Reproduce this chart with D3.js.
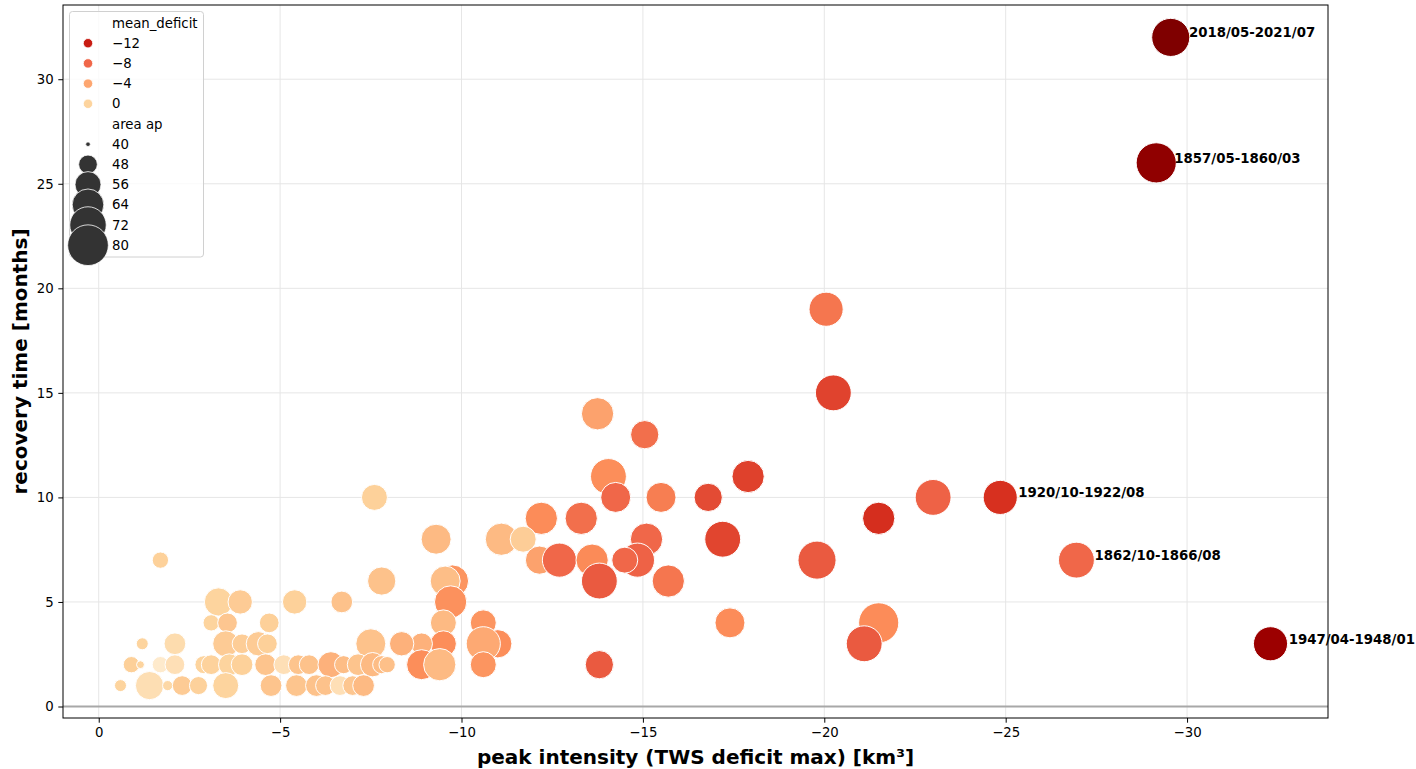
<!DOCTYPE html>
<html>
<head>
<meta charset="utf-8">
<script src="https://cdn.jsdelivr.net/npm/d3@7"></script>
<style>
  body { margin: 0; background: #fff; }
  svg { font-family: "DejaVu Sans", sans-serif; }
</style>
</head>
<body>
<svg id="chart" width="1416" height="769"></svg>
<script>
// drought events: peak deficit, recovery time, mean deficit (hue), area (size)
const peak = [-29.55, -29.15, -24.85, -26.95, -32.3,
  -20.05, -20.25, -13.75, -15.05, -14.05, -14.25, -15.5, -16.8, -17.9, -13.3,
  -15.1, -17.2, -21.5, -23.0, -19.8, -7.6, -12.2, -9.3, -11.1, -11.7,
  -12.15, -12.7, -13.6, -14.85, -14.5, -13.8, -15.7, -7.8, -9.75, -9.55,
  -9.7, -9.5, -9.5, -8.9, -8.35, -8.9, -9.4, -10.6, -11.0, -10.6,
  -10.6, -13.8, -17.4, -21.5, -21.1,
  -3.3, -3.9, -3.1, -3.55, -4.7, -1.2, -2.1, -3.5, -3.95, -4.4,
  -4.65, -0.9, -1.15, -1.7, -2.1, -2.9, -3.1, -3.6, -3.95, -4.6,
  -0.6, -1.4, -1.9, -2.3, -2.75, -3.5, -4.75, -5.4, -6.7, -7.5,
  -5.1, -5.5, -5.8, -6.4, -6.75, -7.15, -7.55, -7.8, -7.95, -5.45,
  -6.0, -6.25, -6.65, -7.0, -7.3, -1.7];
const recovery = [32, 26, 10, 7, 3,
  19, 15, 14, 13, 11, 10, 10, 10, 11, 9,
  8, 8, 9, 10, 7, 10, 9, 8, 8, 8,
  7, 7, 7, 7, 7, 6, 6, 6, 6, 6,
  5, 4, 3, 3, 3, 2, 2, 4, 3, 3,
  2, 2, 4, 4, 3,
  5, 5, 4, 4, 4, 3, 3, 3, 3, 3,
  3, 2, 2, 2, 2, 2, 2, 2, 2, 2,
  1, 1, 1, 1, 1, 1, 1, 5, 5, 3,
  2, 2, 2, 2, 2, 2, 2, 2, 2, 1,
  1, 1, 1, 1, 1, 7];
const meanDeficit = [-16.3, -15.4, -10.9, -8.0, -14.8,
  -7.0, -9.9, -4.2, -7.5, -5.4, -8.0, -6.5, -9.5, -10.0, -7.5,
  -8.0, -9.8, -11.0, -8.3, -8.7, -0.4, -5.5, -2.8, -2.8, -0.8,
  -4.2, -8.0, -5.6, -8.3, -8.0, -8.7, -7.0, -2.0, -5.0, -2.4,
  -5.2, -2.8, -5.4, -3.3, -3.3, -5.4, -2.8, -5.0, -5.4, -3.8,
  -5.0, -8.7, -5.5, -5.5, -8.7,
  0.0, -1.0, 0.0, -1.5, -0.5, 0.0, 1.0, -1.0, -0.8, -1.0,
  -0.5, -0.5, 0.0, 3.0, 1.5, 0.0, -0.2, 0.0, -0.4, -1.8,
  0.0, 1.3, 0.5, -1.0, -0.3, 0.0, -1.8, -0.4, -2.0, -2.0,
  1.5, -1.8, -2.0, -3.3, -2.5, -1.8, -2.8, -2.5, -2.2, -1.7,
  -2.0, -2.0, 1.5, -1.5, -2.8, -0.4];
const areaAp = [75, 79, 68, 71, 68,
  68, 71, 65, 59, 71, 61.5, 61.5, 59, 65, 65,
  65, 71, 65, 71, 75, 56, 65, 61.5, 65, 56,
  59, 68, 65, 68, 56, 71, 65, 59, 65, 61.5,
  65, 56, 56, 51, 54, 61.5, 65, 56, 59, 68,
  56, 59, 61.5, 79, 71,
  59, 54, 46, 49, 49, 43, 51, 56, 49, 54,
  49, 46, 41, 46, 49, 47.5, 49, 51, 51, 51,
  43, 59, 42, 49, 47.5, 56, 51, 54, 51, 61.5,
  49, 49, 49, 56, 47.5, 51, 54, 47.5, 46, 51,
  51, 49, 49, 49, 51, 46];
// annotated events (index into the arrays above)
const labelIdx = [0, 1, 2, 3, 4];
const labelNames = ["2018/05-2021/07", "1857/05-1860/03", "1920/10-1922/08", "1862/10-1866/08", "1947/04-1948/01"];

const xTicks = [0, -5, -10, -15, -20, -25, -30];
const yTicks = [0, 5, 10, 15, 20, 25, 30];
const hueLegend = [-12, -8, -4, 0];
const sizeLegend = [40, 48, 56, 64, 72, 80];

const data = peak.map((p, i) => ({ x: p, y: recovery[i], hue: meanDeficit[i], size: areaAp[i] }));

const plotL = 63, plotR = 1328, plotT = 5, plotB = 718;
const svg = d3.select("#chart");

const x = d3.scaleLinear().domain([0.985, -33.885]).range([plotL, plotR]);
const y = d3.scaleLinear().domain([-0.55, 33.55]).range([plotB, plotT]);

// OrRd, linear between the colorbrewer stops (reversed: more negative = darker)
const orrd = ["#fff7ec", "#fee8c8", "#fdd49e", "#fdbb84", "#fc8d59", "#ef6548", "#d7301f", "#b30000", "#7f0000"];
const cmap = d3.scaleLinear().domain(d3.range(9).map(i => i / 8)).range(orrd).clamp(true);
const hueT = d3.scaleLinear().domain([5.4, -16.3]).range([0, 1]).clamp(true);
const color = v => cmap(hueT(v));

const area = d3.scaleLinear().domain([40, 80]).range([5.3, 414]);
const radius = v => Math.sqrt(Math.max(area(v), 1));

const fmt = d => d < 0 ? "\u2212" + Math.abs(d) : String(d);

// grid
svg.append("g").selectAll("line").data(xTicks).join("line")
  .attr("x1", d => x(d)).attr("x2", d => x(d))
  .attr("y1", plotT).attr("y2", plotB)
  .attr("stroke", "#e6e6e6").attr("stroke-width", 1);
svg.append("g").selectAll("line").data(yTicks).join("line")
  .attr("x1", plotL).attr("x2", plotR)
  .attr("y1", d => y(d)).attr("y2", d => y(d))
  .attr("stroke", "#e6e6e6").attr("stroke-width", 1);

// zero line
svg.append("line")
  .attr("x1", plotL).attr("x2", plotR)
  .attr("y1", y(0)).attr("y2", y(0))
  .attr("stroke", "#a8a8a8").attr("stroke-width", 1.8);

// points
svg.append("g").selectAll("circle").data(data).join("circle")
  .attr("cx", d => x(d.x))
  .attr("cy", d => y(d.y))
  .attr("r", d => radius(d.size))
  .attr("fill", d => color(d.hue))
  .attr("stroke", "#fff").attr("stroke-width", 1);

// annotations
svg.append("g").selectAll("text").data(labelIdx).join("text")
  .attr("x", i => x(peak[i] - 0.5))
  .attr("y", i => y(recovery[i]))
  .attr("font-size", 13.3).attr("font-weight", "bold").attr("fill", "#000")
  .text((i, k) => labelNames[k]);

// axes
const xAxis = svg.append("g").attr("transform", `translate(0,${plotB})`)
  .call(d3.axisBottom(x).tickValues(xTicks).tickFormat(fmt).tickSize(4.7).tickPadding(4.7));
const yAxis = svg.append("g").attr("transform", `translate(${plotL},0)`)
  .call(d3.axisLeft(y).tickValues(yTicks).tickFormat(fmt).tickSize(4.7).tickPadding(4.7));
[xAxis, yAxis].forEach(g => {
  g.select(".domain").remove();
  g.selectAll("text").attr("font-size", 13.3).attr("fill", "#000").attr("font-family", "DejaVu Sans");
  g.selectAll("line").attr("stroke", "#000").attr("stroke-width", 1);
});

// frame
svg.append("rect")
  .attr("x", plotL).attr("y", plotT).attr("width", plotR - plotL).attr("height", plotB - plotT)
  .attr("fill", "none").attr("stroke", "#000").attr("stroke-width", 1);

// axis titles
svg.append("text")
  .attr("x", (plotL + plotR) / 2).attr("y", 764)
  .attr("text-anchor", "middle").attr("font-size", 20).attr("font-weight", "bold")
  .text("peak intensity (TWS deficit max) [km³]");
svg.append("text")
  .attr("transform", `translate(27,${(plotT + plotB) / 2}) rotate(-90)`)
  .attr("text-anchor", "middle").attr("font-size", 20).attr("font-weight", "bold")
  .text("recovery time [months]");

// legend
const lg = svg.append("g");
lg.append("rect")
  .attr("x", 69.5).attr("y", 11.5).attr("width", 134).attr("height", 245.5)
  .attr("rx", 3).attr("fill", "#fff").attr("fill-opacity", 0.8)
  .attr("stroke", "#d0d0d0").attr("stroke-width", 1);
const rowY = i => 23 + i * 20.2;
const textX = 112, markX = 88;
const rows = [{ label: "mean_deficit" }]
  .concat(hueLegend.map(v => ({ label: fmt(v), hue: v })))
  .concat([{ label: "area ap" }])
  .concat(sizeLegend.map(v => ({ label: String(v), size: v })));
rows.forEach((r, i) => {
  if (r.hue !== undefined) {
    lg.append("circle").attr("cx", markX).attr("cy", rowY(i)).attr("r", 4.7)
      .attr("fill", color(r.hue)).attr("stroke", "#fff").attr("stroke-width", 0.8);
  } else if (r.size !== undefined) {
    lg.append("circle").attr("cx", markX).attr("cy", rowY(i)).attr("r", radius(r.size))
      .attr("fill", "#333").attr("stroke", "#fff").attr("stroke-width", 0.8);
  }
  lg.append("text").attr("x", textX).attr("y", rowY(i)).attr("dy", "0.35em")
    .attr("font-size", 13.3).attr("fill", "#000").text(r.label);
});
</script>
</body>
</html>
